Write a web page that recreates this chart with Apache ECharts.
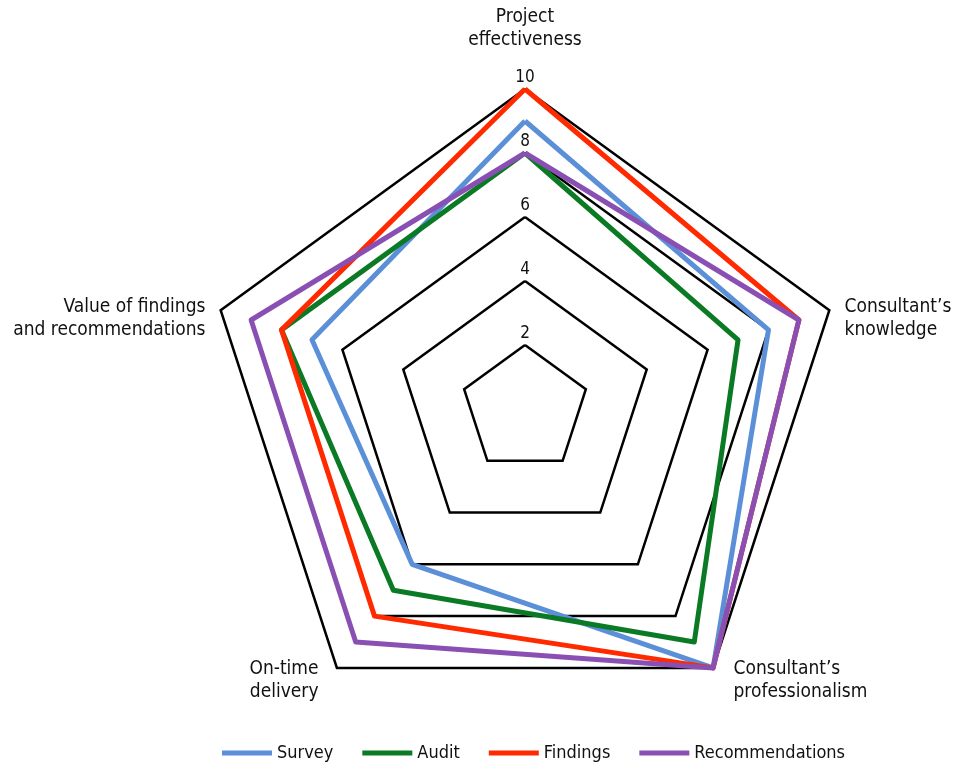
<!DOCTYPE html>
<html>
<head>
<meta charset="utf-8">
<script src="https://cdn.jsdelivr.net/npm/echarts@6/dist/echarts.min.js"></script>
<style>
  html, body { margin: 0; padding: 0; background: #fff; }
  #chart { width: 953px; height: 765px; }
</style>
</head>
<body>
<div id="chart"></div>
<script>
// Rating dimensions, listed clockwise from the top
const dimensions = [
  "Project\neffectiveness",
  "Consultant\u2019s\nknowledge",
  "Consultant\u2019s\nprofessionalism",
  "On-time\ndelivery",
  "Value of findings\nand recommendations"
];
const scaleMax = 10;

// Scores per series, in the same clockwise order as the dimensions
const seriesNames = ["Survey", "Audit", "Findings", "Recommendations"];
const surveyScores = [9, 8, 10, 6, 7];
const auditScores = [8, 7, 9, 7, 8];
const findingsScores = [10, 9, 10, 8, 8];
const recommendationsScores = [8, 9, 10, 9, 9];
const seriesColors = ["#5b8fd8", "#0b7a24", "#ff2a00", "#8a4fb3"];

const FONT = '"Liberation Sans Narrow", "DejaVu Sans Condensed", "Roboto", sans-serif';

const allScores = [surveyScores, auditScores, findingsScores, recommendationsScores];

// ECharts lays radar indicators out counter-clockwise, so keep the first
// one at the top and reverse the rest to get a clockwise layout.
const order = [0, 4, 3, 2, 1];

// Placement group per dimension, used to fine-tune where each name sits
const nameGroup = ['top', 'upper', 'lowerR', 'lowerL', 'upper'];

const indicator = order.map((k, pos) => {
  const ind = { name: dimensions[k], min: 0, max: scaleMax };
  if (pos === 0) {
    // Only the vertical axis carries the value labels
    ind.axisLabel = {
      show: true,
      showMinLabel: false,
      margin: 0,
      align: 'center',
      verticalAlign: 'bottom',
      padding: [0, 0, 3, 0],
      color: '#111',
      fontFamily: FONT,
      fontSize: 17
    };
  }
  return ind;
});

const baseText = { fontFamily: FONT, fontSize: 19, lineHeight: 23, color: '#111' };

function formatName(name) {
  const group = nameGroup[dimensions.indexOf(name)];
  const lines = name.split('\n');
  if (group === 'top') {
    // spacer line below lifts the title clear of the "10" label
    return lines.map(ln => '{t|' + ln + '}').join('\n') + '\n{gapTop| }';
  }
  if (group === 'upper') {
    // spacer line above drops the block a little below the vertex
    return '{gapUp| }\n' + lines.map(ln => '{t|' + ln + '}').join('\n');
  }
  if (group === 'lowerR') {
    return lines.map(ln => '{r|' + ln + '}').join('\n');
  }
  return lines.map(ln => '{l|' + ln + '}').join('\n');
}

const chart = echarts.init(document.getElementById('chart'), null, { renderer: 'canvas' });

chart.setOption({
  animation: false,
  backgroundColor: '#ffffff',
  legend: {
    bottom: -2,
    left: 217,
    icon: 'rect',
    itemWidth: 50,
    itemHeight: 5,
    itemGap: 29,
    itemStyle: { borderWidth: 0 },
    lineStyle: { cap: 'butt' },
    textStyle: { fontFamily: FONT, fontSize: 18, color: '#111' },
    data: seriesNames
  },
  radar: {
    center: [525, 409],
    radius: 320,
    shape: 'polygon',
    splitNumber: 5,
    startAngle: 90,
    nameGap: 16,
    axisName: {
      color: '#111',
      fontFamily: FONT,
      fontSize: 19,
      lineHeight: 23,
      formatter: formatName,
      rich: {
        t: Object.assign({}, baseText),
        r: Object.assign({ padding: [0, 0, 0, 11] }, baseText),
        l: Object.assign({ padding: [0, 9, 0, 0] }, baseText),
        gapTop: { fontSize: 2, lineHeight: 18 },
        gapUp: { fontSize: 2, lineHeight: 26 }
      }
    },
    axisLine: { show: false },
    axisTick: { show: false },
    axisLabel: { show: false },
    splitArea: { show: false },
    splitLine: { lineStyle: { color: '#000', width: 2.5 } },
    indicator: indicator
  },
  series: [{
    type: 'radar',
    symbol: 'none',
    data: seriesNames.map((n, i) => ({
      name: n,
      value: order.map(k => allScores[i][k]),
      lineStyle: { color: seriesColors[i], width: 5 },
      itemStyle: { color: seriesColors[i] }
    }))
  }]
});
</script>
</body>
</html>
